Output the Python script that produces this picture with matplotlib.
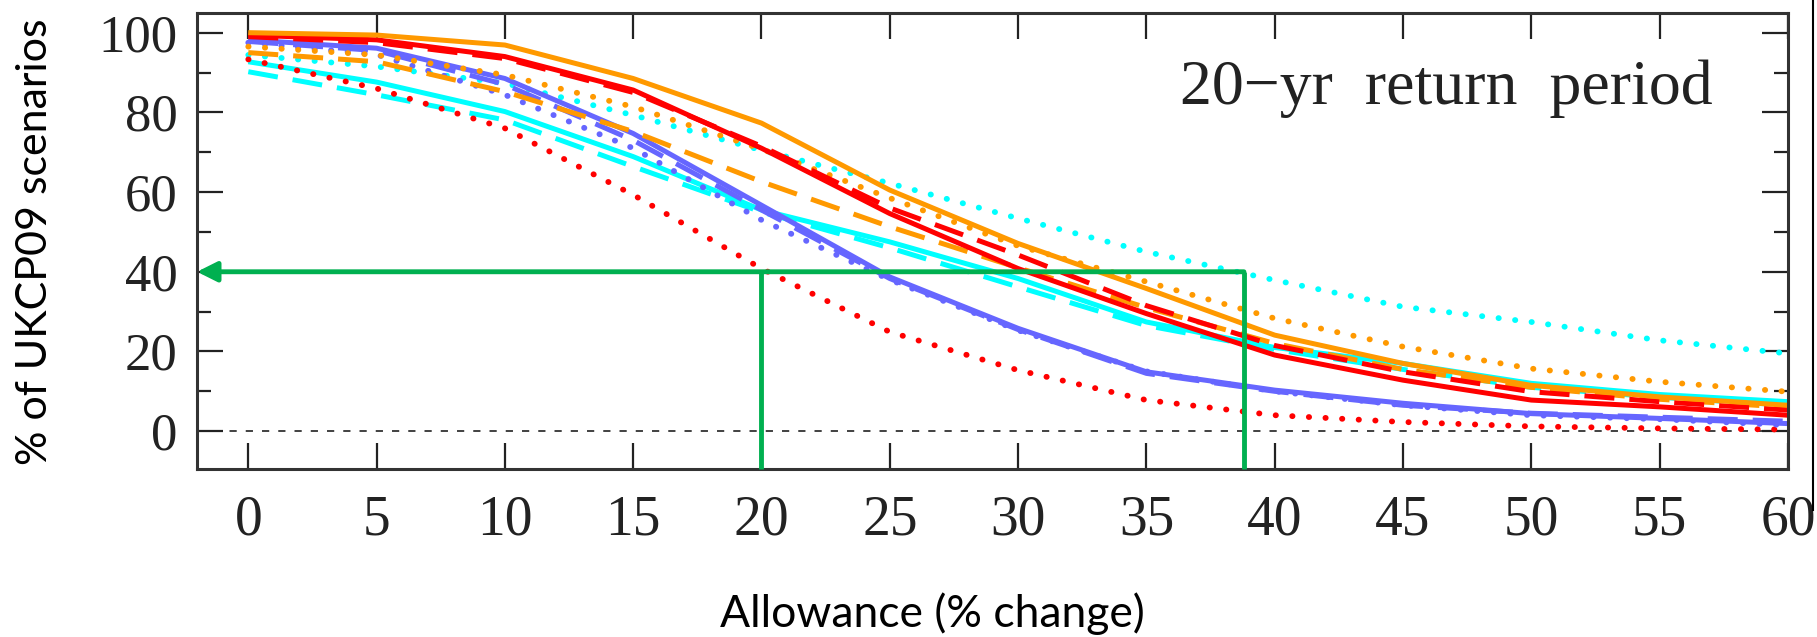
import matplotlib
matplotlib.use("Agg")
import matplotlib.pyplot as plt
from matplotlib.lines import Line2D

# allowance values (% change) where the curves were read
allowance = [0, 5, 10, 15, 20, 25, 30, 35, 40, 45, 50, 55, 60]

# % of UKCP09 scenarios exceeding the allowance, one list per curve
orange_solid = [100, 99.4, 96.9, 88.5, 77.3, 60.5, 47.1, 35.8, 24.1, 17.0, 11.5, 8.6, 6.5]
orange_dotted = [96.5, 94.4, 89.4, 81.4, 70.8, 58.5, 46.5, 37.5, 28.3, 21.2, 15.7, 12.4, 9.9]
orange_dashed = [95.0, 92.7, 85.2, 75.2, 62.6, 51.3, 41.0, 31.0, 22.0, 15.5, 11.0, 8.0, 6.0]
red_solid = [99.4, 98.2, 94.0, 85.6, 71.0, 54.6, 40.8, 29.5, 19.1, 12.8, 7.8, 6.1, 4.0]
red_dashed = [99.0, 97.5, 93.5, 85.0, 71.5, 56.0, 44.2, 31.5, 21.5, 14.9, 9.9, 7.4, 5.3]
red_dotted = [93.3, 86.0, 76.0, 59.3, 40.8, 24.9, 15.3, 7.8, 4.0, 2.3, 1.2, 0.7, 0.4]
blue_solid = [98.2, 96.1, 88.5, 74.7, 56.7, 38.7, 25.8, 14.9, 10.3, 7.0, 4.4, 3.2, 1.9]
blue_dashed = [97.8, 95.5, 87.0, 73.0, 55.5, 38.3, 25.5, 14.5, 10.0, 6.5, 4.5, 3.5, 2.5]
blue_dotted = [97.5, 94.5, 84.4, 71.0, 53.0, 38.0, 25.3, 15.0, 10.0, 6.5, 4.0, 3.0, 1.5]
cyan_dotted = [94.4, 91.5, 87.3, 79.3, 70.5, 62.2, 53.4, 45.0, 37.9, 31.2, 27.4, 22.8, 19.5]
cyan_solid = [92.7, 87.6, 80.2, 68.9, 55.5, 47.5, 38.3, 27.4, 21.0, 17.0, 12.0, 9.2, 7.4]
cyan_dashed = [90.2, 84.4, 78.1, 66.4, 55.0, 46.0, 36.2, 26.5, 20.5, 15.5, 11.0, 8.5, 6.5]

# reading of the chart: 40 % of scenarios -> 20 % and 38.8 % allowance
read_level = 40
read_x = [20, 38.8]

x_ticks = [0, 5, 10, 15, 20, 25, 30, 35, 40, 45, 50, 55, 60]
y_ticks = [0, 20, 40, 60, 80, 100]

ORANGE = "#ff9900"
RED = "#ff0000"
BLUE = "#6666ff"
CYAN = "#00ffff"
GREEN = "#00b050"

dot = (0, (0.05, 2.8))
dash = (0, (6, 3))

fig = plt.figure(figsize=(18.17, 6.37), dpi=100)
ax = fig.add_axes([0.1084, 0.2637, 0.984 - 0.1084, 0.980 - 0.2637])

# zero line
ax.axhline(0, color="#333333", lw=1.3, ls=(0, (4, 5)), zorder=1)

curves = [
    (cyan_dotted, CYAN, dot),
    (cyan_dashed, CYAN, dash),
    (cyan_solid, CYAN, "-"),
    (red_dotted, RED, dot),
    (blue_dotted, BLUE, dot),
    (blue_dashed, BLUE, dash),
    (blue_solid, BLUE, "-"),
    (orange_dashed, ORANGE, dash),
    (orange_dotted, ORANGE, dot),
    (red_dashed, RED, dash),
    (red_solid, RED, "-"),
    (orange_solid, ORANGE, "-"),
]
for vals, col, ls in curves:
    ax.plot(allowance, vals, color=col, ls=ls,
            lw=4.2 if ls is dot else 3.6,
            dash_capstyle="round" if ls is dot else "butt",
            solid_capstyle="butt", zorder=2)

ax.text(36.3, 86, "20\u2212yr  return  period", fontsize=46,
        family="Liberation Serif", va="center", ha="left", color="#222222")

ax.set_xlim(-2, 60)
ax.set_ylim(-9.5, 105)

# green reading lines
ax.annotate("", xy=(-2, read_level), xytext=(read_x[1], read_level),
            arrowprops=dict(arrowstyle="-|>", color=GREEN, lw=3.5,
                            mutation_scale=30, shrinkA=0, shrinkB=0),
            zorder=5)
for xv in read_x:
    ax.plot([xv, xv], [read_level, -9.5], color=GREEN, lw=3.5,
            solid_capstyle="butt", zorder=5, clip_on=False)

ax.set_xticks(x_ticks)
ax.set_yticks(y_ticks)
ax.set_yticks([10, 30, 50, 70, 90], minor=True)
ax.tick_params(which="major", direction="in", length=19, width=1.6,
               top=True, right=True, color="#222222", labelsize=38)
ax.tick_params(which="minor", direction="in", length=10, width=1.6,
               right=True, color="#222222")
ax.tick_params(axis="x", pad=18, labelsize=40)
ax.tick_params(axis="y", pad=14)
for lab in ax.get_xticklabels() + ax.get_yticklabels():
    lab.set_family("Liberation Serif")
    lab.set_color("#222222")

for sp in ax.spines.values():
    sp.set_linewidth(2.2)
    sp.set_color("#333333")

fig.text(0.019, 0.62, "% of UKCP09 scenarios", rotation=90, fontsize=31,
         family="Lato", ha="center", va="center")
fig.text(0.513, 0.036, "Allowance (% change)", fontsize=32,
         family="Lato", ha="center", va="center")

# stray separator line on the right of the slide
fig.add_artist(Line2D([1813 / 1817, 1813 / 1817], [1.0, 1 - 510 / 637],
                      color="black", lw=1.5))

fig.savefig("out.png", dpi=100)
